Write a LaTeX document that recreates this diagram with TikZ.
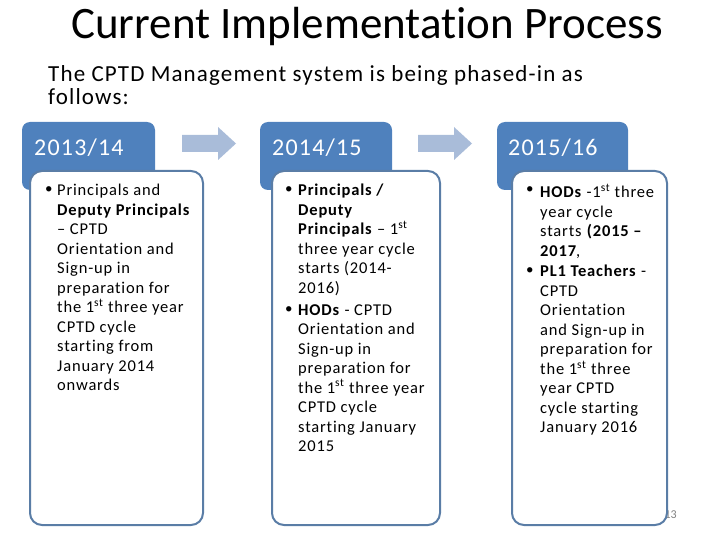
\documentclass[tikz,border=0pt]{standalone}
\usepackage{fontspec}
\setmainfont[Ligatures=NoCommon]{Carlito}
\newfontfamily\bodyfont[Ligatures=NoCommon,LetterSpace=5]{Carlito}
\begin{document}
\begin{tikzpicture}[x=1pt,y=-1pt,
  tab/.style={fill=tabblue,draw=none,rounded corners=8pt},
  box/.style={fill=white,draw=boxblue,line width=2pt,rounded corners=12pt},
  arr/.style={fill=arrblue,draw=none},
  body/.style={anchor=north west,inner sep=0pt,align=left,font=\bodyfont\fontsize{16.5}{19.5}\selectfont},
  bul/.style={anchor=north west,inner sep=0pt,font=\fontsize{15}{19.5}\selectfont},
  hd/.style={anchor=west,inner sep=0pt,text=white,font=\bodyfont\fontsize{24}{26}\selectfont}]
\definecolor{tabblue}{HTML}{4F81BD}
\definecolor{boxblue}{HTML}{5A7DA6}
\definecolor{arrblue}{HTML}{A9BCD9}
\useasboundingbox (0,0) rectangle (720,540);
\node[inner sep=0pt,font=\fontsize{45}{48}\selectfont] (title) at (367,27) {Current Implementation Process};
\node[anchor=north west,inner sep=0pt,align=left,font=\bodyfont\fontsize{23}{23.5}\selectfont] (sub) at (48,65) {The CPTD Management system is being phased-in as\\follows:};
\node[anchor=east,inner sep=0pt,text=gray,font=\fontsize{12}{14}\selectfont] (pg) at (677,515) {13};
% column 1
\path[tab] (22,122) rectangle (155,190);
\node[hd] (h1) at (34,148) {2013/14};
\path[box] (30,171) rectangle (203,525);
\node[bul] (b1) at (45,186) {•};
\node[body] (t1) at (57,184) {Principals and\\\textbf{Deputy Principals}\\– CPTD\\Orientation and\\Sign-up in\\preparation for\\the 1\textsuperscript{st} three year\\CPTD cycle\\starting from\\January 2014\\onwards};
% arrow 1
\path[arr] (182,135) -- (218,135) -- (218,127) -- (236,143.5) -- (218,160) -- (218,152) -- (182,152) -- cycle;
% column 2
\path[tab] (260,122) rectangle (392,190);
\node[hd] (h2) at (272,148) {2014/15};
\path[box] (272,171) rectangle (440,525);
\node[bul] (b2) at (285,186) {•};
\node[body] (t2) at (298,184) {\textbf{Principals /}\\\textbf{Deputy}\\\textbf{Principals} – 1\textsuperscript{st}\\three year cycle\\starts (2014-\\2016)};
\node[bul] (b3) at (285,306) {•};
\node[body] (t3) at (298,304) {\textbf{HODs} - CPTD\\Orientation and\\Sign-up in\\preparation for\\the 1\textsuperscript{st} three year\\CPTD cycle\\starting January\\2015};
% arrow 2
\path[arr] (418,135) -- (454,135) -- (454,127) -- (472,143.5) -- (454,160) -- (454,152) -- (418,152) -- cycle;
% column 3
\path[tab] (497,122) rectangle (628,190);
\node[hd] (h3) at (508,148) {2015/16};
\path[box] (512,171) rectangle (667,525);
\node[bul] (b4) at (526,186) {•};
\node[body] (t4) at (540,184) {\textbf{HODs} -1\textsuperscript{st} three\\year cycle\\starts \textbf{(2015 –}\\\textbf{2017},};
\node[bul] (b5) at (526,267) {•};
\node[body] (t5) at (540,265) {\textbf{PL1 Teachers} -\\CPTD\\Orientation\\and Sign-up in\\preparation for\\the 1\textsuperscript{st} three\\year CPTD\\cycle starting\\January 2016};
\end{tikzpicture}
\end{document}
